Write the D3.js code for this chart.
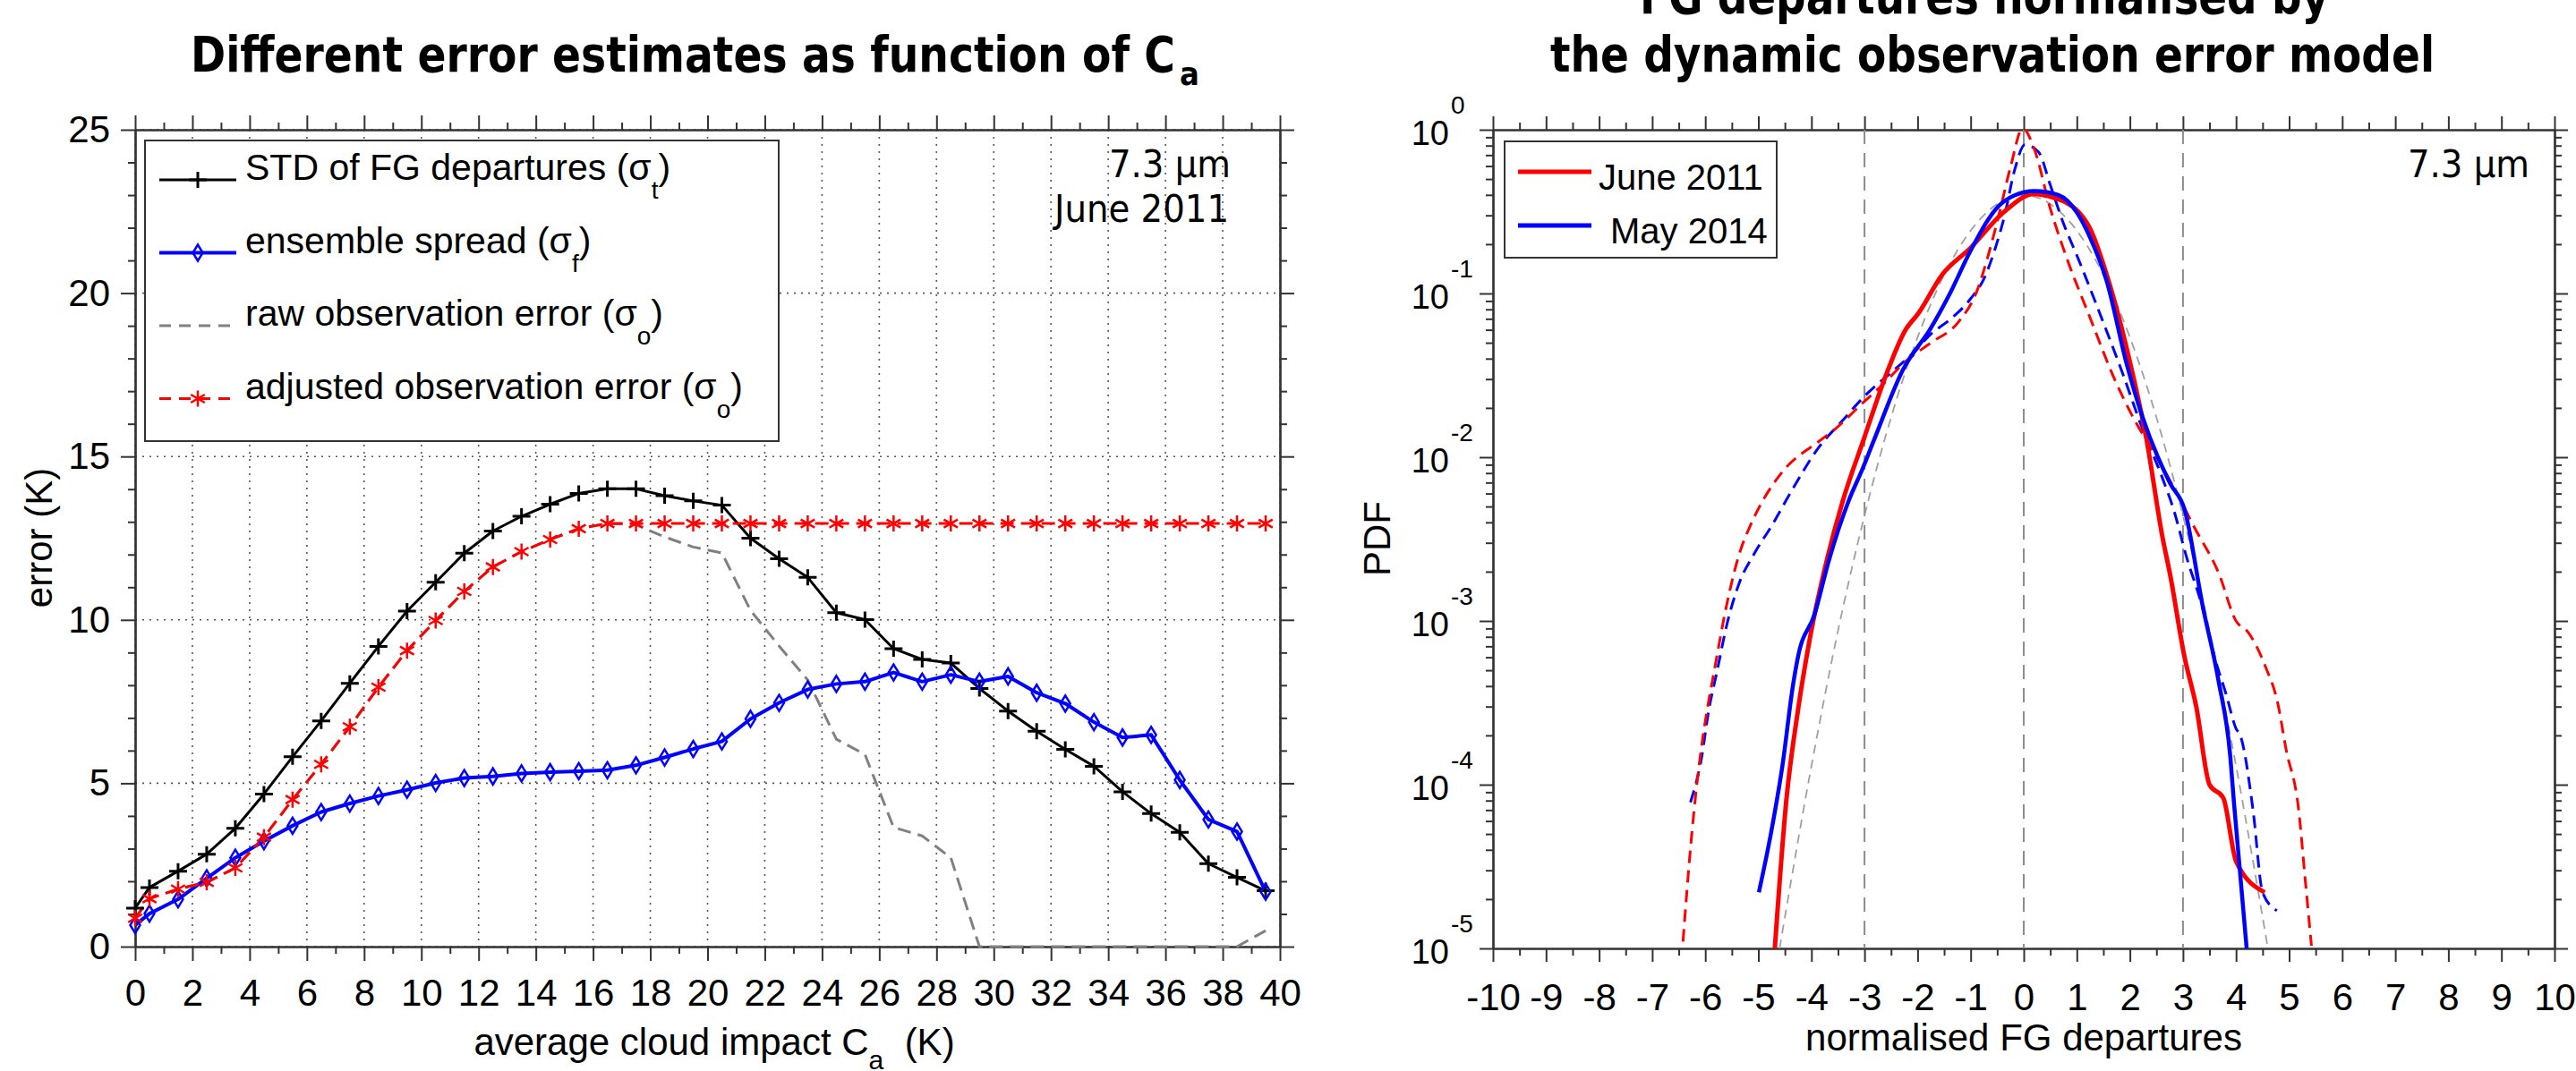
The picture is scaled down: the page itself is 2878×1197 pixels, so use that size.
<!DOCTYPE html>
<html>
<head>
<meta charset="utf-8">
<title>Error estimates and normalised FG departures</title>
<script src="https://d3js.org/d3.v7.min.js"></script>
<style>
  body { margin: 0; background: #fff; }
  svg { display: block; }
  text { font-family: "Liberation Sans", Arial, sans-serif; fill: #000; }
  .ttl { font-family: "DejaVu Sans Condensed", "DejaVu Sans", sans-serif; font-weight: bold; }
  .note { font-family: "DejaVu Sans Condensed", "DejaVu Sans", sans-serif; }
</style>
</head>
<body>
<script>

// ---------- left panel: error vs average cloud impact ----------
var caBins = [0, 0.5, 1.5, 2.5, 3.5, 4.5, 5.5, 6.5, 7.5, 8.5, 9.5, 10.5, 11.5, 12.5, 13.5, 14.5,
  15.5, 16.5, 17.5, 18.5, 19.5, 20.5, 21.5, 22.5, 23.5, 24.5, 25.5, 26.5, 27.5, 28.5, 29.5,
  30.5, 31.5, 32.5, 33.5, 34.5, 35.5, 36.5, 37.5, 38.5, 39.5];

var stdFG = [1.18, 1.81, 2.31, 2.83, 3.62, 4.67, 5.81, 6.91, 8.06, 9.19, 10.27, 11.15, 12.04, 12.72,
  13.17, 13.54, 13.87, 14.01, 14.01, 13.80, 13.64, 13.51, 12.5, 11.87, 11.30, 10.22, 10.01, 9.12,
  8.79, 8.68, 7.90, 7.21, 6.59, 6.04, 5.52, 4.74, 4.07, 3.50, 2.54, 2.12, 1.71];

var ensSpread = [0.66, 1.01, 1.45, 2.09, 2.72, 3.23, 3.70, 4.12, 4.38, 4.61, 4.80, 5.01, 5.16, 5.21,
  5.30, 5.34, 5.37, 5.40, 5.55, 5.79, 6.05, 6.28, 6.97, 7.46, 7.87, 8.04, 8.11, 8.39, 8.11, 8.32,
  8.11, 8.27, 7.77, 7.44, 6.87, 6.40, 6.48, 5.10, 3.89, 3.52, 1.68];

var rawObsErr = [0.87, 1.47, 1.76, 1.97, 2.41, 3.35, 4.50, 5.58, 6.73, 7.94, 9.06, 9.98, 10.87, 11.62,
  12.09, 12.46, 12.79, 12.95, 12.91, 12.54, 12.23, 12.05, 10.29, 9.20, 8.16, 6.35, 5.88, 3.65, 3.39,
  2.72, 0, 0, 0, 0, 0, 0, 0, 0, 0, 0, 0.49];

var adjObsErr = [0.87, 1.47, 1.76, 1.97, 2.41, 3.35, 4.50, 5.58, 6.73, 7.94, 9.06, 9.98, 10.87, 11.62,
  12.09, 12.46, 12.79, 12.95, 12.95, 12.95, 12.95, 12.95, 12.95, 12.95, 12.95, 12.95, 12.95, 12.95,
  12.95, 12.95, 12.95, 12.95, 12.95, 12.95, 12.95, 12.95, 12.95, 12.95, 12.95, 12.95, 12.95];

var xTicksLeft = [0, 2, 4, 6, 8, 10, 12, 14, 16, 18, 20, 22, 24, 26, 28, 30, 32, 34, 36, 38, 40];
var yTicksLeft = [0, 5, 10, 15, 20, 25];

// ---------- right panel: PDF of normalised departures ----------
var june2011Norm = [[-4.69, 1.0e-5], [-4.47, 8.2e-5], [-4.25, 2.9e-4], [-4.03, 7.8e-4], [-3.71, 2.35e-3],
  [-3.41, 5.4e-3], [-3.01, 1.3e-2], [-2.58, 3.27e-2], [-2.24, 5.9e-2], [-1.98, 7.6e-2], [-1.53, 0.131],
  [-1.0, 0.19], [-0.4, 0.309], [0.2, 0.406], [0.5, 0.39], [1.03, 0.315], [1.26, 0.245], [1.56, 0.131],
  [2.01, 3.7e-2], [2.31, 1.3e-2], [2.61, 3.3e-3], [2.76, 1.9e-3], [3.03, 6.0e-4], [3.25, 3.0e-4],
  [3.5, 1.0e-4], [3.76, 8.3e-5], [4.0, 3.4e-5], [4.54, 2.2e-5]];

var may2014Norm = [[-4.99, 2.2e-5], [-4.77, 4.9e-5], [-4.54, 1.35e-4], [-4.35, 4.0e-4], [-4.25, 6.1e-4],
  [-3.94, 1.1e-3], [-3.67, 2.35e-3], [-3.3, 5.4e-3], [-3.03, 8.6e-3], [-2.81, 1.3e-2], [-2.28, 3.4e-2],
  [-1.75, 6.15e-2], [-1.38, 0.1016], [-1.0, 0.183], [-0.47, 0.343], [-0.17, 0.398], [0.2, 0.423],
  [0.66, 0.398], [0.99, 0.316], [1.26, 0.216], [1.56, 0.12], [1.94, 3.7e-2], [2.24, 1.75e-2],
  [2.76, 6.9e-3], [3.03, 4.8e-3], [3.37, 1.24e-3], [3.67, 4.3e-4], [3.89, 1.5e-4], [3.96, 7.8e-5],
  [4.2, 1.0e-5]];

var june2011Raw = [[-6.42, 1.1e-5], [-6.27, 4.4e-5], [-6.16, 1.0e-4], [-6.05, 1.9e-4], [-5.81, 5.4e-4],
  [-5.6, 1.24e-3], [-5.37, 2.5e-3], [-5.14, 3.9e-3], [-4.92, 5.4e-3], [-4.54, 8.2e-3], [-3.86, 1.25e-2],
  [-3.56, 1.48e-2], [-3.03, 2.15e-2], [-2.66, 2.77e-2], [-2.21, 3.88e-2], [-1.75, 5.0e-2], [-1.23, 6.7e-2],
  [-0.89, 0.102], [-0.66, 0.175], [-0.47, 0.30], [-0.25, 0.59], [-0.02, 1.02], [0.2, 0.76], [0.5, 0.33],
  [0.8, 0.168], [1.26, 6.97e-2], [1.71, 3.0e-2], [2.09, 1.68e-2], [2.46, 1.06e-2], [2.84, 6.4e-3],
  [3.22, 3.7e-3], [3.67, 1.97e-3], [4.0, 1.0e-3], [4.23, 8.5e-4], [4.55, 5.3e-4], [4.79, 3.1e-4],
  [4.94, 1.66e-4], [5.18, 7.0e-5], [5.3, 2.7e-5], [5.42, 1.04e-5]];

var may2014Raw = [[-6.28, 7.8e-5], [-6.08, 1.4e-4], [-5.93, 2.9e-4], [-5.78, 4.9e-4], [-5.6, 9.3e-4],
  [-5.37, 1.67e-3], [-5.07, 2.6e-3], [-4.73, 3.9e-3], [-4.39, 6.1e-3], [-3.86, 1.15e-2], [-3.41, 1.68e-2],
  [-3.01, 2.34e-2], [-2.51, 3.27e-2], [-2.06, 4.4e-2], [-1.75, 5.65e-2], [-1.38, 6.97e-2], [-1.0, 9.3e-2],
  [-0.74, 0.125], [-0.55, 0.183], [-0.36, 0.30], [-0.17, 0.57], [0.02, 0.81], [0.28, 0.73], [0.5, 0.46],
  [0.73, 0.278], [1.03, 0.162], [1.41, 7.9e-2], [1.86, 3.27e-2], [2.24, 1.48e-2], [2.61, 7.5e-3],
  [2.84, 4.6e-3], [3.06, 2.5e-3], [3.37, 1.2e-3], [3.59, 6.1e-4], [3.82, 3.5e-4], [4.0, 2.2e-4],
  [4.08, 2.0e-4], [4.32, 7.0e-5], [4.5, 2.2e-5], [4.77, 1.7e-5]];

var gaussRef = [[-4.6, 1.0e-5], [-4.0, 1.3e-4], [-3.5, 8.7e-4], [-3.0, 4.4e-3], [-2.5, 1.75e-2],
  [-2.0, 5.4e-2], [-1.5, 0.13], [-1.0, 0.242], [-0.5, 0.352], [0, 0.399], [0.5, 0.352], [1.0, 0.242],
  [1.5, 0.13], [2.0, 5.4e-2], [2.5, 1.75e-2], [3.0, 4.4e-3], [3.5, 8.7e-4], [4.0, 1.3e-4], [4.6, 1.0e-5]];

var refLines = [-3, 0, 3];
var xTicksRight = [-10, -9, -8, -7, -6, -5, -4, -3, -2, -1, 0, 1, 2, 3, 4, 5, 6, 7, 8, 9, 10];
var yTicksRight = [1e-5, 1e-4, 1e-3, 1e-2, 1e-1, 1];
var yExpRight = ["-5", "-4", "-3", "-2", "-1", "0"];

// ---------- page ----------
var svg = d3.select("body").append("svg")
    .attr("width", 2878)
    .attr("height", 1197);

var axisColor = "#333";
var defs = svg.append("defs");

// marker shapes
var markerPath = {
  plus: "M-10,0H10M0,-9V9",
  diamond: "M0,-9L5.5,0L0,9L-5.5,0Z",
  star: "M0,-9V9M-7.8,-4.5L7.8,4.5M-7.8,4.5L7.8,-4.5"
};

// ============ LEFT PANEL ============
var L = {left: 151, right: 1430, top: 145, bottom: 1058};

var xL = d3.scaleLinear().domain([0, 40]).range([L.left, L.right]);
var yL = d3.scaleLinear().domain([0, 25]).range([L.bottom, L.top]);

defs.append("clipPath").attr("id", "clipL")
  .append("rect")
    .attr("x", L.left).attr("y", L.top - 2)
    .attr("width", L.right - L.left).attr("height", L.bottom - L.top + 4);

var gL = svg.append("g");

// dotted grid
gL.append("g").selectAll("line")
  .data(xTicksLeft)
  .join("line")
    .attr("x1", d => xL(d)).attr("x2", d => xL(d))
    .attr("y1", L.top).attr("y2", L.bottom)
    .attr("stroke", "#555").attr("stroke-width", 1.6)
    .attr("stroke-dasharray", "2,6");

gL.append("g").selectAll("line")
  .data(yTicksLeft)
  .join("line")
    .attr("x1", L.left).attr("x2", L.right)
    .attr("y1", d => yL(d)).attr("y2", d => yL(d))
    .attr("stroke", "#555").attr("stroke-width", 1.6)
    .attr("stroke-dasharray", "2,6");

function styleAxis(g, size) {
  g.attr("color", axisColor)
    .attr("font-size", size)
    .attr("font-family", "Liberation Sans, Arial, sans-serif");
  g.selectAll("path.domain").attr("stroke-width", 2.2);
  g.selectAll(".tick line").attr("stroke-width", 2);
  g.selectAll(".tick text").attr("fill", "#000");
}

var xMinorLeft = d3.range(1, 40, 2);
var yMinorLeft = d3.range(0, 26).filter(d => d % 5 !== 0);

// bottom
gL.append("g").attr("transform", "translate(0," + L.bottom + ")")
  .call(d3.axisBottom(xL).tickValues(xMinorLeft).tickSize(8).tickSizeOuter(0).tickFormat(""))
  .call(styleAxis, 42);
gL.append("g").attr("transform", "translate(0," + L.bottom + ")")
  .call(d3.axisBottom(xL).tickValues(xTicksLeft).tickSize(16).tickPadding(20).tickSizeOuter(0))
  .call(styleAxis, 42);
// top
gL.append("g").attr("transform", "translate(0," + L.top + ")")
  .call(d3.axisTop(xL).tickValues(xMinorLeft).tickSize(8).tickSizeOuter(0).tickFormat(""))
  .call(styleAxis, 42);
gL.append("g").attr("transform", "translate(0," + L.top + ")")
  .call(d3.axisTop(xL).tickValues(xTicksLeft).tickSize(16).tickSizeOuter(0).tickFormat(""))
  .call(styleAxis, 42);
// left
gL.append("g").attr("transform", "translate(" + L.left + ",0)")
  .call(d3.axisLeft(yL).tickValues(yMinorLeft).tickSize(8).tickSizeOuter(0).tickFormat(""))
  .call(styleAxis, 42);
gL.append("g").attr("transform", "translate(" + L.left + ",0)")
  .call(d3.axisLeft(yL).tickValues(yTicksLeft).tickSize(16).tickPadding(12).tickSizeOuter(0))
  .call(styleAxis, 42);
// right
gL.append("g").attr("transform", "translate(" + L.right + ",0)")
  .call(d3.axisRight(yL).tickValues(yMinorLeft).tickSize(8).tickSizeOuter(0).tickFormat(""))
  .call(styleAxis, 42);
gL.append("g").attr("transform", "translate(" + L.right + ",0)")
  .call(d3.axisRight(yL).tickValues(yTicksLeft).tickSize(16).tickSizeOuter(0).tickFormat(""))
  .call(styleAxis, 42);

var leftSeries = [
  {values: stdFG, color: "#000", width: 3, dash: null, marker: "plus", mw: 3},
  {values: ensSpread, color: "#0000ff", width: 4, dash: null, marker: "diamond", mw: 2.5},
  {values: rawObsErr, color: "#808080", width: 3, dash: "15,8", marker: null},
  {values: adjObsErr, color: "#ff0000", width: 3, dash: "15,8", marker: "star", mw: 2.5}
];

var lineL = d3.line()
  .x((d, i) => xL(caBins[i]))
  .y(d => yL(d));

var dataL = gL.append("g").attr("clip-path", "url(#clipL)");

leftSeries.forEach(function(s) {
  dataL.append("path")
    .datum(s.values)
    .attr("d", lineL)
    .attr("fill", "none")
    .attr("stroke", s.color)
    .attr("stroke-width", s.width)
    .attr("stroke-dasharray", s.dash)
    .attr("stroke-linejoin", "round");
});
leftSeries.forEach(function(s) {
  if (!s.marker) return;
  gL.append("g").selectAll("path")
    .data(s.values)
    .join("path")
      .attr("transform", (d, i) => "translate(" + xL(caBins[i]) + "," + yL(d) + ")")
      .attr("d", markerPath[s.marker])
      .attr("fill", "none")
      .attr("stroke", s.color)
      .attr("stroke-width", s.mw);
});

// title
svg.append("text").attr("class", "ttl")
  .attr("x", 213).attr("y", 80)
  .attr("font-size", 55)
  .attr("textLength", 1100).attr("lengthAdjust", "spacingAndGlyphs")
  .text("Different error estimates as function of C");
svg.append("text").attr("class", "ttl")
  .attr("x", 1318).attr("y", 95)
  .attr("font-size", 36)
  .text("a");

// axis titles
svg.append("text")
  .attr("transform", "translate(58,601) rotate(-90)")
  .attr("text-anchor", "middle")
  .attr("font-size", 42)
  .text("error (K)");

var xlab = svg.append("text")
  .attr("x", 798).attr("y", 1179)
  .attr("text-anchor", "middle")
  .attr("font-size", 42);
xlab.append("tspan").text("average cloud impact C");
xlab.append("tspan").attr("dy", 16).attr("font-size", 30).text("a");
xlab.append("tspan").attr("dy", -16).text("\u00a0\u00a0(K)");

// annotation
svg.append("text").attr("class", "note")
  .attr("x", 1375).attr("y", 198).attr("text-anchor", "end")
  .attr("font-size", 43).text("7.3 \u00b5m");
svg.append("text").attr("class", "note")
  .attr("x", 1373).attr("y", 248).attr("text-anchor", "end")
  .attr("font-size", 43).text("June 2011");

// legend
var legL = svg.append("g");
legL.append("rect")
  .attr("x", 162).attr("y", 157).attr("width", 708).attr("height", 336)
  .attr("fill", "#fff").attr("stroke", axisColor).attr("stroke-width", 2);

var legendLeft = [
  {label: "STD of FG departures (\u03c3", sub: "t", s: leftSeries[0]},
  {label: "ensemble spread (\u03c3", sub: "f", s: leftSeries[1]},
  {label: "raw observation error (\u03c3", sub: "o", s: leftSeries[2]},
  {label: "adjusted observation error (\u03c3", sub: "o", s: leftSeries[3]}
];

legendLeft.forEach(function(e, i) {
  var y = 201 + i * 81.5;
  legL.append("line")
    .attr("x1", 178).attr("x2", 264).attr("y1", y).attr("y2", y)
    .attr("stroke", e.s.color).attr("stroke-width", e.s.width)
    .attr("stroke-dasharray", e.s.dash ? "13,9" : null);
  if (e.s.marker) {
    legL.append("path")
      .attr("transform", "translate(221," + y + ")")
      .attr("d", markerPath[e.s.marker])
      .attr("fill", "none").attr("stroke", e.s.color).attr("stroke-width", e.s.mw);
  }
  var t = legL.append("text").attr("x", 274).attr("y", y).attr("font-size", 41);
  t.append("tspan").text(e.label);
  t.append("tspan").attr("dy", 21).attr("font-size", 28).text(e.sub);
  t.append("tspan").attr("dy", -21).text(")");
});

// ============ RIGHT PANEL ============
var R = {left: 1668, right: 2854, top: 145, bottom: 1060};

var xR = d3.scaleLinear().domain([-10, 10]).range([R.left, R.right]);
var yR = d3.scaleLog().domain([1e-5, 1]).range([R.bottom, R.top]);

defs.append("clipPath").attr("id", "clipR")
  .append("rect")
    .attr("x", R.left).attr("y", R.top)
    .attr("width", R.right - R.left).attr("height", R.bottom - R.top);

var gR = svg.append("g");

var xMinorRight = d3.range(-9.5, 10, 1);
var yMinorRight = [];
yTicksRight.slice(0, -1).forEach(function(p) {
  for (var k = 2; k <= 9; k++) yMinorRight.push(p * k);
});

gR.append("g").attr("transform", "translate(0," + R.bottom + ")")
  .call(d3.axisBottom(xR).tickValues(xMinorRight).tickSize(8).tickSizeOuter(0).tickFormat(""))
  .call(styleAxis, 42);
gR.append("g").attr("transform", "translate(0," + R.bottom + ")")
  .call(d3.axisBottom(xR).tickValues(xTicksRight).tickSize(15).tickPadding(24).tickSizeOuter(0)
    .tickFormat(d => String(d)))
  .call(styleAxis, 42);
gR.append("g").attr("transform", "translate(0," + R.top + ")")
  .call(d3.axisTop(xR).tickValues(xMinorRight).tickSize(8).tickSizeOuter(0).tickFormat(""))
  .call(styleAxis, 42);
gR.append("g").attr("transform", "translate(0," + R.top + ")")
  .call(d3.axisTop(xR).tickValues(xTicksRight).tickSize(15).tickSizeOuter(0).tickFormat(""))
  .call(styleAxis, 42);
gR.append("g").attr("transform", "translate(" + R.left + ",0)")
  .call(d3.axisLeft(yR).tickValues(yMinorRight).tickSize(8).tickSizeOuter(0).tickFormat(""))
  .call(styleAxis, 42);
gR.append("g").attr("transform", "translate(" + R.left + ",0)")
  .call(d3.axisLeft(yR).tickValues(yTicksRight).tickSize(15).tickSizeOuter(0).tickFormat(""))
  .call(styleAxis, 42);
gR.append("g").attr("transform", "translate(" + R.right + ",0)")
  .call(d3.axisRight(yR).tickValues(yMinorRight).tickSize(8).tickSizeOuter(0).tickFormat(""))
  .call(styleAxis, 42);
gR.append("g").attr("transform", "translate(" + R.right + ",0)")
  .call(d3.axisRight(yR).tickValues(yTicksRight).tickSize(15).tickSizeOuter(0).tickFormat(""))
  .call(styleAxis, 42);

// 10^n labels
var yLab = gR.append("g").selectAll("g")
  .data(yTicksRight)
  .join("g")
    .attr("transform", d => "translate(0," + yR(d) + ")");
yLab.append("text")
  .attr("x", 1619).attr("y", 17)
  .attr("text-anchor", "end")
  .attr("font-size", 38)
  .text("10");
yLab.append("text")
  .attr("x", 1621).attr("y", -18)
  .attr("font-size", 28)
  .text((d, i) => yExpRight[i]);

// reference lines
gR.append("g").selectAll("line")
  .data(refLines)
  .join("line")
    .attr("x1", d => xR(d)).attr("x2", d => xR(d))
    .attr("y1", R.top).attr("y2", R.bottom)
    .attr("stroke", "#8c8c8c").attr("stroke-width", 2)
    .attr("stroke-dasharray", "16,10");

var rightSeries = [
  {values: gaussRef, color: "#a0a0a0", width: 1.8, dash: "10,7"},
  {values: may2014Raw, color: "#0000ff", width: 3, dash: "14,8"},
  {values: june2011Raw, color: "#ff0000", width: 3, dash: "14,8"},
  {values: june2011Norm, color: "#ff0000", width: 5, dash: null},
  {values: may2014Norm, color: "#0000ff", width: 4.5, dash: null}
];

var lineR = d3.line()
  .x(d => xR(d[0]))
  .y(d => yR(d[1]))
  .curve(d3.curveMonotoneX);

var dataR = gR.append("g").attr("clip-path", "url(#clipR)");
rightSeries.forEach(function(s) {
  dataR.append("path")
    .datum(s.values)
    .attr("d", lineR)
    .attr("fill", "none")
    .attr("stroke", s.color)
    .attr("stroke-width", s.width)
    .attr("stroke-dasharray", s.dash)
    .attr("stroke-linejoin", "round");
});

// titles
svg.append("text").attr("class", "ttl")
  .attr("x", 1832).attr("y", 15)
  .attr("font-size", 55)
  .attr("textLength", 770).attr("lengthAdjust", "spacingAndGlyphs")
  .text("FG departures normalised by");
svg.append("text").attr("class", "ttl")
  .attr("x", 1732).attr("y", 80)
  .attr("font-size", 55)
  .attr("textLength", 988).attr("lengthAdjust", "spacingAndGlyphs")
  .text("the dynamic observation error model");

svg.append("text")
  .attr("transform", "translate(1553,602) rotate(-90)")
  .attr("text-anchor", "middle")
  .attr("font-size", 42)
  .text("PDF");

svg.append("text")
  .attr("x", 2261).attr("y", 1174)
  .attr("text-anchor", "middle")
  .attr("font-size", 42)
  .text("normalised FG departures");

svg.append("text").attr("class", "note")
  .attr("x", 2826).attr("y", 198).attr("text-anchor", "end")
  .attr("font-size", 43).text("7.3 \u00b5m");

// legend
var legR = svg.append("g");
legR.append("rect")
  .attr("x", 1681).attr("y", 158).attr("width", 304).attr("height", 130)
  .attr("fill", "#fff").attr("stroke", axisColor).attr("stroke-width", 2);

var legendRight = [
  {label: "June 2011", color: "#ff0000", tx: 1786},
  {label: "May 2014", color: "#0000ff", tx: 1799}
];
legendRight.forEach(function(e, i) {
  var y = 192 + i * 60;
  legR.append("line")
    .attr("x1", 1696).attr("x2", 1778).attr("y1", y).attr("y2", y)
    .attr("stroke", e.color).attr("stroke-width", 5);
  legR.append("text")
    .attr("x", e.tx).attr("y", y + 20)
    .attr("font-size", 40)
    .text(e.label);
});

</script>
</body>
</html>
